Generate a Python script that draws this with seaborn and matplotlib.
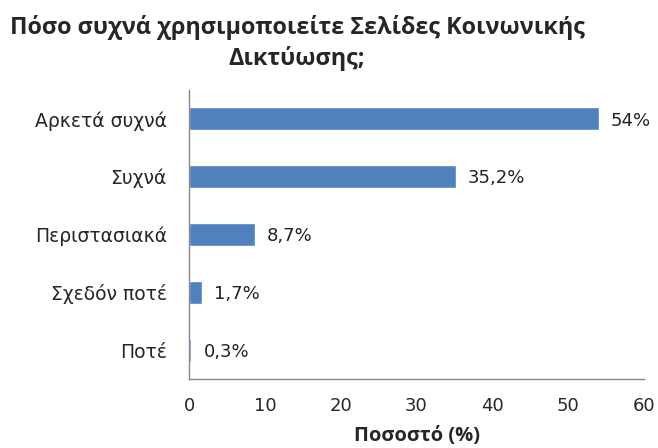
import matplotlib
matplotlib.use('Agg')
import matplotlib.pyplot as plt
import seaborn as sns
import pandas as pd

categories = ['Αρκετά συχνά', 'Συχνά', 'Περιστασιακά', 'Σχεδόν ποτέ', 'Ποτέ']
values = [54, 35.2, 8.7, 1.7, 0.3]
value_labels = ['54%', '35,2%', '8,7%', '1,7%', '0,3%']
xticks = [0, 10, 20, 30, 40, 50, 60]

df = pd.DataFrame({'cat': categories, 'val': values})

sns.set_style('white')
plt.rcParams['font.family'] = ['DejaVu Sans']

fig = plt.figure(figsize=(6.58, 4.48), dpi=100)
ax = fig.add_axes([189 / 658, 1 - 379 / 448, (644 - 189) / 658, (379 - 90) / 448])

sns.barplot(data=df, x='val', y='cat', color='#4F81BD', saturation=1,
            width=0.4, ax=ax)

for i, (v, lab) in enumerate(zip(values, value_labels)):
    ax.text(v + 1.6, i + 0.03, lab, va='center', ha='left', fontsize=13, color='#222222')

ax.set_xlim(0, 60)
ax.set_ylim(4.5, -0.5)
ax.set_xticks(xticks)
ax.set_xticklabels([str(t) for t in xticks], fontsize=13)
ax.set_yticks(range(len(categories)))
ax.set_yticklabels(categories, fontsize=13.5)
# minor ticks at category boundaries like the original
ax.set_yticks([i + 0.5 for i in range(-1, len(categories))], minor=True)
ax.tick_params(axis='y', which='major', length=0, pad=16)
ax.tick_params(axis='y', which='minor', length=6, color='#888888', direction='out')
ax.tick_params(axis='x', length=6, color='#888888', direction='inout', pad=10)

for s in ['top', 'right']:
    ax.spines[s].set_visible(False)
for s in ['left', 'bottom']:
    ax.spines[s].set_color('#888888')
    ax.spines[s].set_linewidth(1)

ax.set_ylabel('')
ax.set_xlabel('Ποσοστό (%)', fontsize=14.5, fontweight='bold', labelpad=8,
              family=['Open Sans', 'DejaVu Sans'])

fig.text(297 / 658, 1 - 43 / 448, 'Πόσο συχνά χρησιμοποιείτε Σελίδες Κοινωνικής\nΔικτύωσης;',
         ha='center', va='center', fontsize=16.8, fontweight='bold', linespacing=1.35,
         family=['Open Sans', 'DejaVu Sans'])

fig.savefig('out.png', dpi=100)
